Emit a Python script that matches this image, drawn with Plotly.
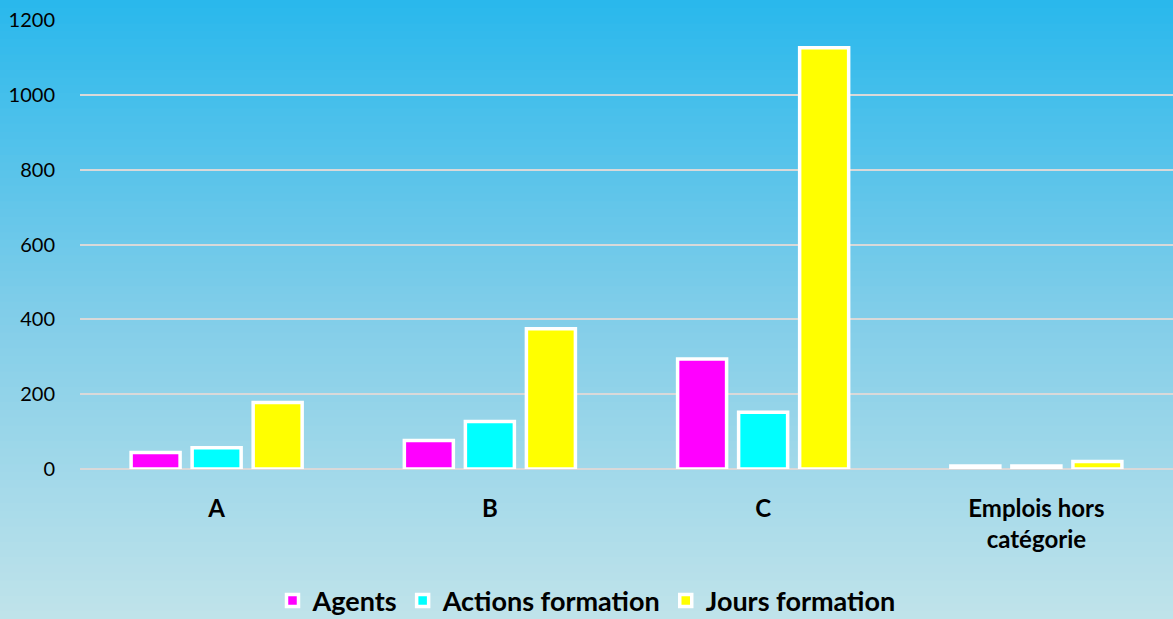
import plotly.graph_objects as go

categories = ["A", "B", "C", "Emplois hors<br>catégorie"]
agents = [44, 76, 294, 8]
actions = [57, 127, 152, 8]
jours = [178, 375, 1126, 20]
series_names = ["Agents", "Actions formation", "Jours formation"]
series_colors = ["#FF00FF", "#00FFFF", "#FFFF00"]
y_ticks = [0, 200, 400, 600, 800, 1000, 1200]

W, H = 1173, 619
ML, MR, MT, MB = 80, 0, 20, 150
PW, PH = W - ML - MR, H - MT - MB

fig = go.Figure()
for name, vals, col in zip(series_names, [agents, actions, jours], series_colors):
    fig.add_trace(go.Bar(
        x=categories, y=vals, name=name,
        marker=dict(color=col, line=dict(color="white", width=3.5)),
    ))

# gradient background via stacked rectangles (paper coordinates)
stops = [(0.0, (41, 184, 236)), (0.5, (128, 205, 233)), (1.0, (192, 227, 234))]
def col_at(t):
    for (t0, c0), (t1, c1) in zip(stops[:-1], stops[1:]):
        if t <= t1:
            f = (t - t0) / (t1 - t0)
            return tuple(int(round(a + (b - a) * f)) for a, b in zip(c0, c1))
    return stops[-1][1]

N = 80
shapes = []
x0p = -ML / PW - 0.01
x1p = 1 + MR / PW + 0.01
for i in range(N):
    py0 = H * i / N - (2 if i == 0 else 0)
    py1 = H * (i + 1) / N + 1
    c = col_at((i + 0.5) / N)
    shapes.append(dict(
        type="rect", xref="paper", yref="paper", layer="below",
        x0=x0p, x1=x1p,
        y0=1 - (py1 - MT) / PH, y1=1 - (py0 - MT) / PH,
        fillcolor="rgb(%d,%d,%d)" % c, line=dict(width=0),
    ))

legend_y = 1 - (601 - MT) / PH

fig.update_layout(
    width=W, height=H,
    margin=dict(l=ML, r=MR, t=MT, b=MB, autoexpand=False),
    paper_bgcolor="rgb(192,227,234)",
    plot_bgcolor="rgba(0,0,0,0)",
    shapes=shapes,
    barmode="group", bargap=0.33, bargroupgap=0.197,
    font=dict(family="Lato, sans-serif", color="black"),
    showlegend=True,
    legend=dict(
        orientation="h", x=0.5, xanchor="center", xref="container",
        y=legend_y, yanchor="middle", yref="paper",
        bgcolor="rgba(0,0,0,0)",
        font=dict(size=27, family="Lato, sans-serif", weight="bold"),
        itemwidth=30, traceorder="normal",
    ),
    xaxis=dict(
        showgrid=False, showline=False, zeroline=False,
        tickfont=dict(size=24, weight="bold"),
        ticks="outside", ticklen=18, tickcolor="rgba(0,0,0,0)",
    ),
    yaxis=dict(
        range=[0, 1200], tickvals=y_ticks,
        showgrid=True, gridcolor="#D9D9D9", gridwidth=2,
        zeroline=True, zerolinecolor="#D9D9D9", zerolinewidth=2,
        showline=False,
        tickfont=dict(size=20),
        ticks="outside", ticklen=20, tickcolor="rgba(0,0,0,0)",
    ),
)

fig.write_html(
    "out.html",
    config={"displayModeBar": False},
    post_script="document.body.style.margin='0';document.body.style.padding='0';",
)
